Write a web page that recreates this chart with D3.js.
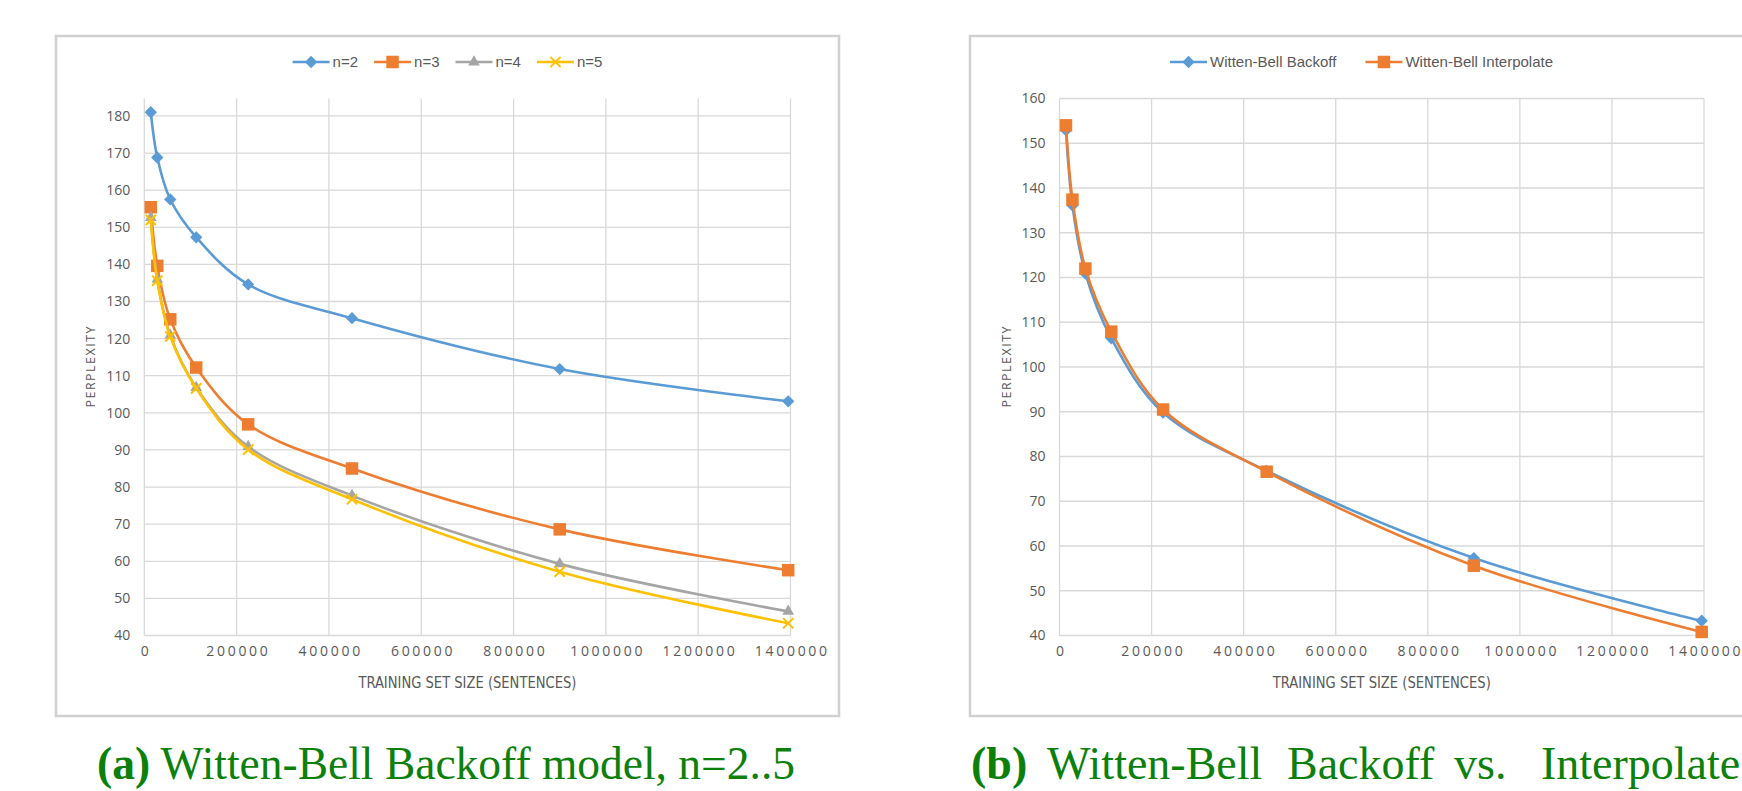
<!DOCTYPE html>
<html>
<head>
<meta charset="utf-8">
<script src="https://cdn.jsdelivr.net/npm/d3@7"></script>
<style>
  body { margin: 0; background: #fff; }
  svg text { font-family: "Open Sans", sans-serif; }
</style>
</head>
<body>
<div id="chart"></div>
<script>
// Training set sizes (sentences), shared by both panels
const trainSizes = [14063, 28125, 56250, 112500, 225000, 450000, 900000, 1395000];

// Panel (a): Witten-Bell backoff, n = 2..5
const perplexN2 = [181.0, 168.8, 157.5, 147.3, 134.6, 125.5, 111.8, 103.1];
const perplexN3 = [155.4, 139.6, 125.2, 112.2, 96.9, 85.0, 68.6, 57.6];
const perplexN4 = [152.6, 136.0, 120.9, 106.8, 90.9, 77.7, 59.3, 46.5];
const perplexN5 = [152.0, 135.6, 120.6, 106.6, 90.1, 76.7, 57.2, 43.3];
const namesA = ["n=2", "n=3", "n=4", "n=5"];

// Panel (b): backoff vs interpolate
const wbBackoff = [152.9, 136.1, 120.9, 106.4, 89.8, 76.8, 57.3, 43.3];
const wbInterp = [154.0, 137.4, 122.0, 107.9, 90.5, 76.6, 55.6, 40.8];
const namesB = ["Witten-Bell Backoff", "Witten-Bell Interpolate"];

// Tick labels
const xTicks = [0, 200000, 400000, 600000, 800000, 1000000, 1200000, 1400000];
const yTicksA = [40, 50, 60, 70, 80, 90, 100, 110, 120, 130, 140, 150, 160, 170, 180];
const yTicksB = [40, 50, 60, 70, 80, 90, 100, 110, 120, 130, 140, 150, 160];

const xTitle = "TRAINING SET SIZE (SENTENCES)";
const yTitle = "PERPLEXITY";

const colors = ["#5b9bd5", "#ed7d31", "#a5a5a5", "#ffc000"];
const markers = ["diamond", "square", "triangle", "x"];

const svg = d3.select("#chart")
    .append("svg")
    .attr("width", 1742)
    .attr("height", 791)
    .style("background", "#fff");

// marker shapes, roughly like Excel's
function addMarker(g, type, color) {
    if (type === "diamond") {
        g.append("path")
            .attr("d", d3.symbol(d3.symbolSquare, 76)())
            .attr("transform", "rotate(45)")
            .attr("fill", color);
    } else if (type === "square") {
        g.append("path")
            .attr("d", d3.symbol(d3.symbolSquare, 156)())
            .attr("fill", color);
    } else if (type === "triangle") {
        g.append("path")
            .attr("d", d3.symbol(d3.symbolTriangle, 60)())
            .attr("fill", color);
    } else {
        g.append("path")
            .attr("d", d3.symbol(d3.symbolX, 70)())
            .attr("fill", "none")
            .attr("stroke", color)
            .attr("stroke-width", 2);
    }
}

function drawPanel(cfg) {
    const g = svg.append("g");

    // chart frame
    g.append("rect")
        .attr("x", cfg.frame.x)
        .attr("y", cfg.frame.y)
        .attr("width", cfg.frame.w)
        .attr("height", cfg.frame.h)
        .attr("fill", "#fff")
        .attr("stroke", "#d0d0d0")
        .attr("stroke-width", 2.5);

    const xScale = d3.scaleLinear()
        .domain([0, 1400000])
        .range([cfg.left, cfg.right]);

    const yScale = d3.scaleLinear()
        .domain(cfg.yDomain)
        .range([cfg.bottom, cfg.top]);

    // gridlines
    g.append("g")
        .selectAll("line.h")
        .data(cfg.yTicks)
        .enter().append("line")
        .attr("x1", cfg.left)
        .attr("x2", cfg.right)
        .attr("y1", d => yScale(d))
        .attr("y2", d => yScale(d))
        .attr("stroke", "#d9d9d9")
        .attr("stroke-width", 1.3);

    g.append("g")
        .selectAll("line.v")
        .data(xTicks)
        .enter().append("line")
        .attr("x1", d => xScale(d))
        .attr("x2", d => xScale(d))
        .attr("y1", cfg.top)
        .attr("y2", cfg.bottom)
        .attr("stroke", "#d9d9d9")
        .attr("stroke-width", 1.3);

    // axes (labels only, Excel style)
    const yAxis = g.append("g")
        .attr("transform", `translate(${cfg.left - 14}, 0)`)
        .call(d3.axisLeft(yScale).tickValues(cfg.yTicks).tickSize(0).tickPadding(0));
    yAxis.select(".domain").remove();
    yAxis.selectAll("text")
        .attr("fill", "#595959")
        .style("font-size", "14px")
        .style("font-family", "'Open Sans', sans-serif");

    const xAxis = g.append("g")
        .attr("transform", `translate(0, ${cfg.bottom + 11})`)
        .call(d3.axisBottom(xScale).tickValues(xTicks).tickFormat(d3.format("d")).tickSize(0).tickPadding(0));
    xAxis.select(".domain").remove();
    xAxis.selectAll("text")
        .attr("fill", "#595959")
        .attr("dx", "1.3px")
        .style("font-size", "14px")
        .style("letter-spacing", "2.7px")
        .style("font-family", "'Open Sans', sans-serif");

    // axis titles
    g.append("text")
        .attr("x", (cfg.left + cfg.right) / 2)
        .attr("y", cfg.bottom + 52)
        .attr("text-anchor", "middle")
        .attr("fill", "#595959")
        .attr("textLength", 218)
        .attr("lengthAdjust", "spacingAndGlyphs")
        .style("font-size", "15px")
        .style("font-family", "'Liberation Sans Narrow', 'DejaVu Sans Condensed', sans-serif")
        .text(xTitle);

    g.append("text")
        .attr("transform", `translate(${cfg.left - 49}, ${(cfg.top + cfg.bottom) / 2}) rotate(-90)`)
        .attr("text-anchor", "middle")
        .attr("fill", "#595959")
        .attr("textLength", 81)
        .attr("lengthAdjust", "spacing")
        .style("font-size", "12.5px")
        .style("font-family", "'Open Sans', sans-serif")
        .text(yTitle);

    // series lines
    const line = d3.line()
        .x((d, i) => xScale(trainSizes[i]))
        .y(d => yScale(d))
        .curve(d3.curveCatmullRom.alpha(0.5));

    cfg.series.forEach(s => {
        g.append("path")
            .attr("d", line(s.values))
            .attr("fill", "none")
            .attr("stroke", s.color)
            .attr("stroke-width", 2.6)
            .attr("stroke-linejoin", "round");

        s.values.forEach((v, i) => {
            const m = g.append("g")
                .attr("transform", `translate(${xScale(trainSizes[i])}, ${yScale(v)})`);
            addMarker(m, s.marker, s.color);
        });
    });

    // legend, centred on the frame
    const legend = g.append("g");
    let cursor = 0;
    cfg.series.forEach(s => {
        const item = legend.append("g").attr("transform", `translate(${cursor}, 0)`);
        item.append("line")
            .attr("x1", 0).attr("x2", 37)
            .attr("stroke", s.color)
            .attr("stroke-width", 2.6);
        const m = item.append("g").attr("transform", "translate(18.5, 0)");
        addMarker(m, s.marker, s.color);
        const t = item.append("text")
            .attr("x", 40)
            .attr("dy", "0.35em")
            .attr("fill", "#595959")
            .style("font-size", "15px")
            .style("font-family", "'Liberation Sans', Arial, sans-serif")
            .text(s.name);
        cursor += 40 + t.node().getComputedTextLength() + cfg.legendGap;
    });
    const legendWidth = cursor - cfg.legendGap;
    legend.attr("transform",
        `translate(${cfg.frame.x + cfg.frame.w / 2 - legendWidth / 2}, 62)`);
}

drawPanel({
    frame: {x: 56, y: 36, w: 783, h: 680},
    left: 144.3, right: 790.5, top: 98.5, bottom: 635.5,
    yDomain: [40, 184.7],
    yTicks: yTicksA,
    legendGap: 16,
    series: [perplexN2, perplexN3, perplexN4, perplexN5].map((v, i) => ({
        name: namesA[i], values: v, color: colors[i], marker: markers[i]
    }))
});

drawPanel({
    frame: {x: 970, y: 36, w: 783, h: 680},
    left: 1059.5, right: 1704, top: 98.5, bottom: 635.5,
    yDomain: [40, 160],
    yTicks: yTicksB,
    legendGap: 29,
    series: [wbBackoff, wbInterp].map((v, i) => ({
        name: namesB[i], values: v, color: colors[i], marker: markers[i]
    }))
});

// captions under the panels
const green = "#0b800b";
const capA = svg.append("text")
    .attr("x", 97)
    .attr("y", 779)
    .attr("fill", green)
    .attr("textLength", 698)
    .attr("lengthAdjust", "spacingAndGlyphs")
    .style("font-family", "'Liberation Serif', 'Times New Roman', serif")
    .style("font-size", "47px");
capA.append("tspan").style("font-weight", "bold").text("(a)");
capA.append("tspan").text(" Witten-Bell Backoff model, n=2..5");

// caption (b) is justified in the source, so words are placed one by one
const capBWords = [
    {text: "(b)", x: 971, bold: true},
    {text: "Witten-Bell", x: 1047},
    {text: "Backoff", x: 1287},
    {text: "vs.", x: 1454},
    {text: "Interpolate", x: 1541}
];
svg.append("g")
    .selectAll("text")
    .data(capBWords)
    .enter().append("text")
    .attr("x", d => d.x)
    .attr("y", 779)
    .attr("fill", green)
    .style("font-family", "'Liberation Serif', 'Times New Roman', serif")
    .style("font-size", "46px")
    .style("font-weight", d => d.bold ? "bold" : "normal")
    .text(d => d.text);
</script>
</body>
</html>
